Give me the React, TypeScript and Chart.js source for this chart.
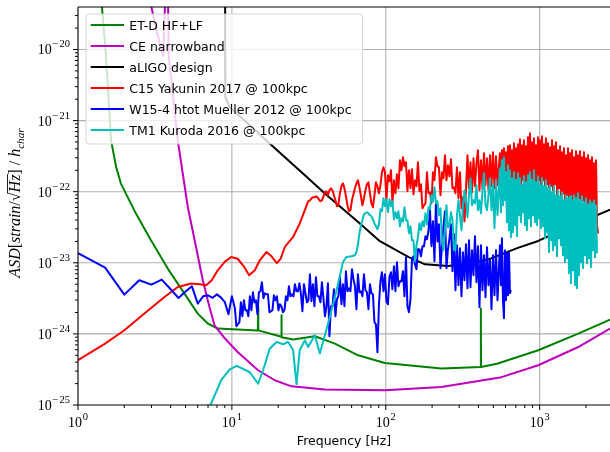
import React, { useEffect, useRef } from 'react';
import { Chart, registerables } from 'chart.js';

Chart.register(...registerables);

// ---------------- data (frequency in Hz, ASD in strain/sqrt(Hz)) ----------------
const seriesLabels = [
  'ET-D HF+LF',
  'CE narrowband',
  'aLIGO design',
  'C15 Yakunin 2017 @ 100kpc',
  'W15-4 htot Mueller 2012 @ 100kpc',
  'TM1 Kuroda 2016 @ 100kpc',
];
const seriesColors = ['#008000', '#bf00bf', '#000000', '#ff0000', '#0000ff', '#00bfbf'];

const xTickExponents = [0, 1, 2, 3];
const yTickExponents = [-25, -24, -23, -22, -21, -20];

const etdFreq = [1.35, 1.43, 1.51, 1.584, 1.64, 1.77, 1.9, 2.38, 2.98, 3.83, 4.92, 6.0, 6.97, 8.09, 10.9, 14.75, 14.8, 14.85, 20.95, 21.0, 21.05, 25.0, 34.6, 46.7, 66.1, 98.6, 230, 414, 415, 416, 528, 979, 1782, 2865, 3000];
const etdAsd = [1.8e-19, 4.0e-20, 9.75e-21, 1.93e-21, 5.28e-22, 2.22e-22, 1.3e-22, 4.92e-23, 2.07e-23, 8.29e-24, 3.69e-24, 1.93e-24, 1.4e-24, 1.19e-24, 1.15e-24, 1.12e-24, 2.39e-24, 1.12e-24, 9.1e-25, 1.83e-24, 9.0e-25, 8.32e-25, 9.25e-25, 7.3e-25, 5.0e-25, 3.9e-25, 3.25e-25, 3.42e-25, 2.27e-24, 3.42e-25, 3.8e-25, 5.88e-25, 1.01e-24, 1.59e-24, 1.7e-24];

const ceFreq = [2.52, 3.0, 3.23, 3.58, 3.8, 3.89, 4.45, 5.17, 5.85, 6.47, 7.15, 7.71, 8.99, 10.9, 14.8, 19.0, 24.4, 40.2, 98.6, 230, 552, 979, 1782, 2865, 3000];
const ceAsd = [1.8e-19, 3.96e-20, 1.86e-20, 8.15e-21, 3.4e-19, 7.84e-21, 5.28e-22, 6.09e-23, 1.67e-23, 5.67e-24, 2.39e-24, 1.32e-24, 8.67e-25, 5.56e-25, 3.08e-25, 2.23e-25, 1.83e-25, 1.65e-25, 1.61e-25, 1.79e-25, 2.43e-25, 3.62e-25, 6.54e-25, 1.19e-24, 1.25e-24];

const aligoFreq = [9.0, 9.06, 9.69, 17.6, 29.8, 40.2, 66.1, 91.6, 140, 180, 254, 343, 461, 722, 979, 1390, 2865, 3000];
const aligoAsd = [1e-17, 2.15e-21, 1.55e-21, 4.75e-22, 1.7e-22, 9.4e-23, 3.75e-23, 2.01e-23, 1.21e-23, 9.52e-24, 9.02e-24, 9.74e-24, 1.11e-23, 1.62e-23, 2.03e-23, 2.87e-23, 5.6e-23, 5.8e-23];

// frequency sampling of the noisy simulated spectra
const midFreq = [
  10.0, 10.23, 10.46, 10.7, 10.94, 11.19, 11.44, 11.7, 11.97, 12.24,
  12.52, 12.8, 13.09, 13.39, 13.7, 14.01, 14.33, 14.65, 14.98, 15.32,
  15.67, 16.03, 16.39, 16.77, 17.15, 17.54, 17.93, 18.34, 18.76, 19.18,
  19.62, 20.06, 20.52, 20.98, 21.46, 21.95, 22.45, 22.96, 23.48, 24.01,
  24.56, 25.11, 25.68, 26.27, 26.86, 27.47, 28.1, 28.73, 29.39, 30.05,
  30.74, 31.43, 32.15, 32.88, 33.62, 34.39, 35.17, 35.96, 36.78, 37.62,
  38.47, 39.35, 40.24, 41.15, 42.09, 43.04, 44.02, 45.02, 46.04, 47.09,
  48.16, 49.25, 50.37, 51.51, 52.68, 53.88, 55.1, 56.35, 57.63, 58.94,
  60.28, 61.65, 63.05, 64.48, 65.94, 67.44, 68.97, 70.54, 72.14, 73.78,
  75.45, 77.16, 78.92, 80.71, 82.54, 84.41, 86.33, 88.29, 90.3, 92.35,
  94.44, 96.59, 98.78, 101.0, 103.3, 105.7, 108.1, 110.5, 113.0, 115.6,
  118.2, 120.9, 123.6, 126.4, 129.3, 132.3, 135.3, 138.3, 141.5, 144.7,
  148.0, 151.3, 154.7, 158.3, 161.9, 165.5, 169.3, 173.2, 177.1, 181.1,
  185.2, 189.4, 193.7, 198.1, 202.6, 207.2, 211.9, 216.7, 221.6, 226.7,
  231.8, 237.1, 242.5, 248.0, 253.6, 259.4, 265.3, 271.3, 277.4, 283.7,
  290.2, 296.8, 303.5, 310.4, 317.5, 324.7, 332.0, 339.6, 347.3, 355.2,
  363.2, 371.5, 379.9, 388.5, 397.3, 406.4, 415.6, 425.0, 434.7, 444.6,
  454.7, 465.0, 475.6, 486.4, 497.4, 508.7, 520.3, 532.1,
];
const denseFreq = [
  552.0, 560.3, 568.8, 577.4, 586.1, 594.9, 603.9, 613.0, 622.3, 631.7,
  641.2, 650.9, 660.7, 670.6, 680.7, 691.0, 701.4, 712.0, 722.7, 733.6,
  744.7, 755.9, 767.3, 778.9, 790.6, 802.5, 814.6, 826.9, 839.4, 852.1,
  865.0, 878.0, 891.3, 904.7, 918.4, 932.2, 946.3, 960.6, 975.1, 989.8,
  1004.7, 1019.9, 1035.3, 1050.9, 1066.8, 1082.9, 1099.2, 1115.8, 1132.6, 1149.7,
  1167.1, 1184.7, 1202.6, 1220.7, 1239.1, 1257.8, 1276.8, 1296.1, 1315.6, 1335.5,
  1355.6, 1376.1, 1396.9, 1417.9, 1439.3, 1461.0, 1483.1, 1505.5, 1528.2, 1551.3,
  1574.7, 1598.4, 1622.5, 1647.0, 1671.9, 1697.1, 1722.7, 1748.7, 1775.1, 1801.9,
  1829.1, 1856.7, 1884.7, 1913.1, 1942.0, 1971.3, 2001.1, 2031.3, 2061.9, 2093.0,
  2124.6, 2156.7, 2189.2, 2222.3, 2255.8, 2289.8, 2324.4, 2359.5, 2395.1,
];

// C15 Yakunin 2017
const c15LowFreq = [1.0, 1.5, 2.0, 2.7, 3.65, 4.45, 5.43, 6.18, 6.8, 7.4, 8.09, 8.99, 9.88, 10.9, 11.95, 12.94, 14.09, 15.19, 16.79, 18.1, 19.6, 20.8, 22.1, 25.0, 27.6, 31.3];
const c15LowAsd = [4.26e-25, 7.31e-25, 1.125e-24, 1.93e-24, 3.31e-24, 4.57e-24, 5.11e-24, 4.99e-24, 4.83e-24, 5.68e-24, 7.85e-24, 1.03e-23, 1.21e-23, 1.14e-23, 8.94e-24, 6.68e-24, 7.85e-24, 1.085e-23, 1.42e-23, 1.235e-23, 9.85e-24, 1.158e-23, 1.67e-23, 2.31e-23, 3.56e-23, 7.33e-23];
const c15MidStart = 52;
const c15MidAsd = [
  7.57e-23, 8.08e-23, 8.34e-23, 8.34e-23, 8.62e-23, 8.34e-23, 7.82e-23, 7.33e-23, 7.57e-23, 8.62e-23,
  9.81e-23, 1.014e-22, 8.9e-23, 1.047e-22, 1.117e-22, 1.047e-22, 8.9e-23, 7.57e-23, 6.23e-23, 6.65e-23,
  9.5e-23, 1.192e-22, 1.313e-22, 1.117e-22, 8.62e-23, 6.44e-23, 5.31e-23, 5.48e-23, 7.57e-23, 9.2e-23,
  1.117e-22, 1.313e-22, 1.447e-22, 1.154e-22, 8.62e-23, 6.44e-23, 8.08e-23, 1.047e-22, 1.271e-22, 1.356e-22,
  9.5e-23, 6.87e-23, 6.04e-23, 8.9e-23, 1.356e-22, 1.192e-22, 9.5e-23, 1.231e-22, 1.875e-22, 2.2e-22,
  1.875e-22, 7.57e-23, 1.7e-22, 1.4e-22, 2.0e-22, 6.87e-23, 1.447e-22, 9.5e-23, 1.76e-22, 1.117e-22,
  2.77e-22, 2.0e-22, 3.05e-22, 2.28e-22, 2.6e-22, 1.014e-22, 2.0e-22, 1.117e-22, 2.07e-22, 9.2e-23,
  1.447e-22, 1.192e-22, 2.6e-22, 1.014e-22, 1.271e-22, 5.84e-23, 6.44e-23, 6.87e-23, 1.875e-22, 9.5e-23,
  9.81e-23, 6.87e-23, 1.875e-22, 1.447e-22, 3.05e-22, 2.28e-22, 2.2e-22, 8.9e-23, 1.875e-22, 1.543e-22,
  3.25e-22, 1.447e-22, 2.35e-22, 1.646e-22, 2.86e-22, 1.117e-22, 1.154e-22, 9.5e-23, 2.2e-22, 8.08e-23,
  1.875e-22, 5.84e-23, 8.34e-23, 3.83e-23, 1.047e-22, 3.25e-22, 1.117e-22, 2.6e-22, 9.81e-23, 2.95e-22,
  1.192e-22, 2.51e-22, 3.82e-22, 1.047e-22, 2.77e-22, 1.117e-22, 3.47e-22, 1.231e-22, 2.95e-22, 1.047e-22,
  3.25e-22, 1.192e-22, 3.58e-22, 1.117e-22, 3.15e-22, 1.231e-22,
];
const c15DenseAsd = [
  3.47e-22, 1.117e-22, 3.82e-22, 1.356e-22, 4.08e-22, 1.047e-22, 3.58e-22, 1.231e-22, 4.36e-22, 9.81e-23,
  4.5e-22, 1.356e-22, 3.82e-22, 1.117e-22, 4.8e-22, 1.543e-22, 4.08e-22, 1.192e-22, 4.65e-22, 1.447e-22,
  5.46e-22, 1.047e-22, 4.5e-22, 1.447e-22, 5.29e-22, 1.192e-22, 4.36e-22, 1.356e-22, 5.83e-22, 1.117e-22,
  6.63e-22, 1.543e-22, 4.96e-22, 1.192e-22, 5.65e-22, 1.356e-22, 4.5e-22, 1.047e-22, 5.83e-22, 1.447e-22,
  5.29e-22, 1.192e-22, 6.03e-22, 1.447e-22, 4.65e-22, 1.117e-22, 5.65e-22, 1.271e-22, 4.8e-22, 9.81e-23,
  4.22e-22, 1.192e-22, 5.29e-22, 1.047e-22, 4.36e-22, 1.271e-22, 4.96e-22, 9.2e-23, 3.82e-22, 1.117e-22,
  4.36e-22, 8.08e-23, 3.58e-22, 9.5e-23, 4.08e-22, 7.1e-23, 3.25e-22, 8.9e-23, 4.08e-22, 6.87e-23,
  3.47e-22, 8.08e-23, 3.82e-22, 6.23e-23, 3.05e-22, 7.57e-23, 3.7e-22, 5.84e-23, 3.25e-22, 8.08e-23,
  3.7e-22, 6.44e-23, 3.05e-22, 7.57e-23, 3.58e-22, 5.48e-23, 2.95e-22, 6.44e-23, 3.25e-22, 5.48e-23,
  2.77e-22, 5.84e-23, 3.05e-22, 4.81e-23, 2.51e-22, 5.48e-23, 2.77e-22, 3.37e-23, 2.6e-23,
];

// W15-4 Mueller 2012
const w15LowFreq = [1, 1.5, 2, 2.5, 3, 3.5, 4, 4.5, 5, 5.5, 6, 6.5, 7, 7.5, 8, 8.5, 9, 9.5];
const w15LowAsd = [1.37e-23, 8.56e-24, 3.57e-24, 5.68e-24, 4.94e-24, 5.8e-24, 4.24e-24, 3.2e-24, 3.95e-24, 4.67e-24, 2.67e-24, 3.38e-24, 3.49e-24, 3.22e-24, 3.6e-24, 3.24e-24, 2.8e-24, 1.89e-24];
const w15MidAsd = [
  3.38e-24, 2.78e-24, 2.3e-24, 1.281e-24, 1.367e-24, 1.458e-24, 2.78e-24, 1.77e-24, 2.97e-24, 2.15e-24,
  2.15e-24, 1.77e-24, 3.38e-24, 2.15e-24, 3.85e-24, 2.78e-24, 2.97e-24, 1.89e-24, 3.85e-24, 3.98e-24,
  5.32e-24, 3.17e-24, 3.73e-24, 3.61e-24, 3.61e-24, 2.02e-24, 2.08e-24, 2.15e-24, 3.49e-24, 2.97e-24,
  3.38e-24, 2.15e-24, 2.61e-24, 2.45e-24, 2.02e-24, 2.15e-24, 3.38e-24, 2.97e-24, 4.68e-24, 3.38e-24,
  3.61e-24, 3.38e-24, 4.99e-24, 3.98e-24, 3.98e-24, 5.15e-24, 3.61e-24, 2.08e-24, 4.99e-24, 3.73e-24,
  2.78e-24, 2.97e-24, 6.9e-24, 2.88e-24, 4.99e-24, 2.45e-24, 6.26e-24, 3.38e-24, 3.38e-24, 2.78e-24,
  5.32e-24, 3.17e-24, 1.77e-24, 2.45e-24, 5.15e-24, 9.26e-25, 2.45e-24, 2.45e-24, 4.24e-24, 1.77e-24,
  3.07e-24, 3.38e-24, 6.26e-24, 2.61e-24, 4.99e-24, 2.45e-24, 7.6e-24, 3.98e-24, 4.38e-24, 3.98e-24,
  8.11e-24, 5.87e-24, 4.68e-24, 2.22e-24, 6.9e-24, 3.85e-24, 3.98e-24, 3.38e-24, 6.9e-24, 4.11e-24,
  3.85e-24, 2.22e-24, 4.99e-24, 3.73e-24, 3.61e-24, 1.458e-24, 1.367e-24, 5.52e-25, 2.61e-24, 5.5e-24,
  7.36e-24, 3.98e-24, 6.9e-24, 2.88e-24, 2.61e-24, 6.47e-24, 7.36e-24, 4.24e-24, 8.94e-24, 3.98e-24,
  1.017e-23, 4.68e-24, 5.5e-24, 5.5e-24, 7.6e-24, 3.38e-24, 1.196e-23, 2.45e-24, 2.02e-24, 3.07e-24,
  1.121e-23, 1.235e-23, 9.53e-24, 8.11e-24, 1.549e-23, 1.549e-23, 1.235e-23, 1.707e-23, 1.707e-23, 2.36e-23,
  2.14e-23, 2.78e-23, 5.66e-23, 1.707e-23, 3.83e-23, 1.05e-23, 7.1e-23, 2.0e-23, 3.48e-23, 8.38e-24,
  1.707e-23, 3.26e-23, 5.31e-23, 8.38e-24, 1.549e-23, 2.21e-23, 3.48e-23, 7.6e-24, 2.52e-23, 4.11e-24,
  1.763e-23, 4.83e-24, 1.6e-23, 3.38e-24, 1.406e-23, 5.68e-24, 1.82e-23, 4.38e-24, 2.07e-23, 4.53e-24,
  1.5e-23, 6.68e-24, 2.36e-23, 5.32e-24, 1.707e-23, 2.37e-24, 1.763e-23, 4.11e-24, 1.276e-23, 3.27e-24,
  1.652e-23, 4.83e-24, 1.085e-23, 2.22e-24, 1.276e-23, 3.49e-24, 1.5e-23, 2.97e-24,
];
const w15DenseAsd = [1.763e-23, 4.83e-24, 2.21e-23, 2.97e-24, 1.66e-24, 1.5e-23, 2.97e-24, 1.361e-23, 3.49e-24, 1.406e-23, 3.73e-24, 4.11e-24];

// TM1 Kuroda 2016
const tm1LowFreq = [6.18, 7.26, 8.56, 9.69, 10.76, 13.08, 14.8, 15.95, 17.64, 19.5, 21.5, 23.2, 25.0, 26.3, 27.6, 29.8, 31.3, 34.6, 37.3, 43.3, 47.9, 52.8, 55.6, 59.9, 63.0];
const tm1LowAsd = [3.19e-26, 1.0e-25, 2.28e-25, 3.18e-25, 3.56e-25, 2.89e-25, 1.99e-25, 3.08e-25, 6.22e-25, 7.71e-25, 7.15e-25, 7.71e-25, 5.89e-25, 1.96e-25, 5.89e-25, 8.14e-25, 6.55e-25, 9.57e-25, 5.3e-25, 1.73e-24, 4.11e-24, 1.03e-23, 1.21e-23, 1.235e-23, 1.276e-23];
const tm1MidStart = 83;
const tm1MidAsd = [
  1.406e-23, 1.82e-23, 2.6e-23, 3.37e-23, 3.96e-23, 4.81e-23, 4.97e-23, 5.14e-23, 4.97e-23, 4.66e-23,
  4.51e-23, 4.09e-23, 3.59e-23, 3.26e-23, 2.96e-23, 3.48e-23,
  5.66e-23, 5.31e-23, 8.08e-23, 6.23e-23, 7.82e-23, 5.14e-23, 7.82e-23, 6.23e-23, 7.33e-23, 4.09e-23,
  5.14e-23, 4.23e-23, 5.31e-23, 3.26e-23, 4.23e-23, 3.83e-23, 6.04e-23, 3.96e-23, 3.96e-23, 2.6e-23,
  3.26e-23, 2.07e-23, 2.07e-23, 1.05e-23, 1.763e-23, 2.29e-23, 3.59e-23, 2.87e-23, 3.83e-23, 3.26e-23,
  4.97e-23, 3.48e-23, 6.04e-23, 5.66e-23, 8.9e-23, 7.33e-23, 1.154e-22, 6.87e-23, 7.33e-23, 4.66e-23,
  5.84e-23, 2.07e-23, 1.5e-23, 2.87e-23, 6.44e-23, 3.16e-23, 3.37e-23, 5.14e-23, 3.96e-23, 1.5e-23,
  1.5e-23,
  4.66e-23, 7.57e-23, 4.66e-23, 2.87e-23, 6.44e-23, 1.047e-22, 7.57e-23, 4.37e-23, 8.9e-23, 1.543e-22,
  6.44e-23, 7.57e-23, 6.87e-23, 1.231e-22, 5.48e-23, 7.57e-23, 4.97e-23, 1.047e-22, 1.815e-22, 6.44e-23,
  5.48e-23, 8.9e-23, 1.543e-22, 5.48e-23, 1.231e-22, 3.06e-23, 1.447e-22, 4.66e-23,
];
const tm1DenseAsd = [
  2.13e-22, 5.14e-23, 2.77e-22, 6.44e-23, 3.05e-22, 7.57e-23, 1.875e-22, 3.71e-23, 2.35e-22, 2.87e-23,
  2.0e-22, 2.28e-23, 1.543e-22, 2.69e-23, 1.875e-22, 3.37e-23, 1.447e-22, 2.36e-23, 1.815e-22, 4.66e-23,
  1.543e-22, 3.71e-23, 1.231e-22, 5.14e-23, 1.646e-22, 3.37e-23, 1.356e-22, 2.87e-23, 1.7e-22, 4.22e-23,
  1.875e-22, 3.26e-23, 1.447e-22, 4.66e-23, 2.0e-22, 3.71e-23, 1.356e-22, 3.37e-23, 1.646e-22, 4.22e-23,
  1.231e-22, 3.06e-23, 1.543e-22, 3.26e-23, 1.192e-22, 2.21e-23, 1.447e-22, 2.69e-23, 1.117e-22, 1.406e-23,
  1.231e-22, 2.07e-23, 9.81e-23, 1.5e-23, 1.192e-22, 1.763e-23, 8.9e-23, 1.235e-23, 1.047e-22, 2.21e-23,
  8.62e-23, 1.763e-23, 9.81e-23, 1.276e-23, 7.57e-23, 1.017e-23, 8.9e-23, 1.158e-23, 8.08e-23, 7.12e-24,
  8.62e-23, 5.15e-24, 7.57e-23, 7.85e-24, 8.9e-23, 4.83e-24, 8.08e-23, 4.38e-24, 9.5e-23, 6.68e-24,
  7.57e-23, 1.017e-23, 8.62e-23, 8.38e-24, 7.09e-23, 1.276e-23, 8.08e-23, 9.85e-24, 6.65e-23, 1.158e-23,
  7.57e-23, 8.65e-24, 6.87e-23, 1.5e-23, 7.57e-23, 1.196e-23, 6.44e-23, 1.361e-23,
];

// axis ranges
const X_MIN = 1;
const X_MAX = 2865;
const Y_MIN = 1e-25;
const Y_MAX = 3.96e-20;

// ---------------- helpers ----------------
function pts(f: number[], v: number[]) {
  return v.map((y, i) => ({ x: f[i], y }));
}

const SERIF = '"Liberation Serif", "DejaVu Serif", serif';
const SANS = '"DejaVu Sans", sans-serif';

function drawPow(ctx: CanvasRenderingContext2D, exp: number, x: number, y: number, align: 'right' | 'center') {
  const base = '10';
  const minus = exp < 0 ? '\u2212' : '';
  const digits = String(Math.abs(exp));
  const bf = `14px ${SERIF}`;
  const sf = `10.5px ${SERIF}`;
  ctx.font = bf;
  const bw = ctx.measureText(base).width;
  ctx.font = sf;
  const mw = minus ? ctx.measureText(minus).width + 1 : 0;
  const dw = ctx.measureText(digits).width;
  const total = bw + 0.8 + mw + dw;
  const x0 = align === 'right' ? x - total : x - total / 2;
  ctx.textAlign = 'left';
  ctx.textBaseline = 'alphabetic';
  ctx.font = bf;
  ctx.fillText(base, x0, y);
  ctx.font = sf;
  if (minus) ctx.fillText(minus, x0 + bw + 0.8, y - 7);
  ctx.fillText(digits, x0 + bw + 0.8 + mw, y - 7);
}

const framePlugin = {
  id: 'frame',
  beforeDatasetsDraw(chart: any) {
    const { ctx, chartArea: a, scales } = chart;
    const xs = scales.x;
    const ys = scales.y;
    ctx.save();
    ctx.strokeStyle = '#b0b0b0';
    ctx.lineWidth = 1.1;
    ctx.beginPath();
    xTickExponents.forEach((e) => {
      const px = xs.getPixelForValue(Math.pow(10, e));
      if (px > a.left + 0.5 && px <= a.right) {
        ctx.moveTo(px, a.top);
        ctx.lineTo(px, a.bottom);
      }
    });
    yTickExponents.forEach((e) => {
      const py = ys.getPixelForValue(Math.pow(10, e));
      if (py < a.bottom - 0.5 && py >= a.top) {
        ctx.moveTo(a.left, py);
        ctx.lineTo(a.right, py);
      }
    });
    ctx.stroke();
    ctx.restore();
  },
  afterDraw(chart: any) {
    const { ctx, chartArea: a, scales } = chart;
    const xs = scales.x;
    const ys = scales.y;
    ctx.save();

    // spines
    ctx.strokeStyle = '#000';
    ctx.lineWidth = 1.1;
    ctx.beginPath();
    ctx.moveTo(a.left, a.top);
    ctx.lineTo(a.right, a.top);
    ctx.moveTo(a.left, a.top);
    ctx.lineTo(a.left, a.bottom);
    ctx.lineTo(a.right, a.bottom);
    ctx.stroke();

    // tick marks
    ctx.lineWidth = 1;
    ctx.beginPath();
    for (let e = -1; e <= 4; e++) {
      for (let k = 1; k <= 9; k++) {
        const v = k * Math.pow(10, e);
        if (v < X_MIN || v > X_MAX) continue;
        const px = xs.getPixelForValue(v);
        const len = k === 1 ? 5 : 3;
        ctx.moveTo(px, a.bottom);
        ctx.lineTo(px, a.bottom + len);
      }
    }
    for (let e = -26; e <= -19; e++) {
      for (let k = 1; k <= 9; k++) {
        const v = k * Math.pow(10, e);
        if (v < Y_MIN * 0.999 || v > Y_MAX) continue;
        const py = ys.getPixelForValue(v);
        const len = k === 1 ? 5 : 3;
        ctx.moveTo(a.left, py);
        ctx.lineTo(a.left - len, py);
      }
    }
    ctx.stroke();

    // tick labels
    ctx.fillStyle = '#000';
    xTickExponents.forEach((e) => {
      const px = xs.getPixelForValue(Math.pow(10, e));
      drawPow(ctx, e, px, a.bottom + 21.5, 'center');
    });
    yTickExponents.forEach((e) => {
      const py = ys.getPixelForValue(Math.pow(10, e));
      drawPow(ctx, e, a.left - 8, py + 5, 'right');
    });

    // x axis title
    ctx.font = `12.5px ${SANS}`;
    ctx.textAlign = 'center';
    ctx.textBaseline = 'alphabetic';
    ctx.fillText('Frequency [Hz]', (a.left + a.right) / 2, 445);

    // y axis title: ASD[strain/sqrt(Hz)] / h_char
    const size = 16;
    const it = `italic ${size}px ${SERIF}`;
    const up = `${size}px ${SERIF}`;
    const sub = `italic ${size * 0.7}px ${SERIF}`;
    const parts: { t: string; f: string; dy?: number; over?: boolean }[] = [
      { t: 'ASD', f: it },
      { t: '[', f: up },
      { t: 'strain', f: it },
      { t: '/', f: up },
      { t: '\u221A', f: up },
      { t: 'Hz', f: it, over: true },
      { t: ']', f: up },
      { t: ' / ', f: up },
      { t: 'h', f: it },
      { t: 'char', f: sub, dy: 3.5 },
    ];
    const widths = parts.map((p) => {
      ctx.font = p.f;
      return ctx.measureText(p.t).width;
    });
    const total = widths.reduce((s, w) => s + w, 0);
    ctx.save();
    ctx.translate(15, 203);
    ctx.rotate(-Math.PI / 2);
    ctx.textAlign = 'left';
    let cx = -total / 2;
    parts.forEach((p, i) => {
      ctx.font = p.f;
      ctx.fillText(p.t, cx, 5 + (p.dy || 0));
      if (p.over) {
        ctx.lineWidth = 0.9;
        ctx.beginPath();
        ctx.moveTo(cx - 1, 5 - size * 0.78);
        ctx.lineTo(cx + widths[i] + 0.5, 5 - size * 0.78);
        ctx.stroke();
      }
      cx += widths[i];
    });
    ctx.restore();

    // legend
    const lx = 86, ly = 14, lw = 276.5, lh = 130, r = 3;
    ctx.beginPath();
    ctx.moveTo(lx + r, ly);
    ctx.lineTo(lx + lw - r, ly);
    ctx.arcTo(lx + lw, ly, lx + lw, ly + r, r);
    ctx.lineTo(lx + lw, ly + lh - r);
    ctx.arcTo(lx + lw, ly + lh, lx + lw - r, ly + lh, r);
    ctx.lineTo(lx + r, ly + lh);
    ctx.arcTo(lx, ly + lh, lx, ly + lh - r, r);
    ctx.lineTo(lx, ly + r);
    ctx.arcTo(lx, ly, lx + r, ly, r);
    ctx.closePath();
    ctx.fillStyle = 'rgba(255,255,255,0.8)';
    ctx.fill();
    ctx.strokeStyle = 'rgba(204,204,204,0.8)';
    ctx.lineWidth = 1;
    ctx.stroke();

    chart.data.datasets.forEach((ds: any, i: number) => {
      const cy = 25 + i * 21;
      ctx.strokeStyle = ds.borderColor;
      ctx.lineWidth = 2;
      ctx.beginPath();
      ctx.moveTo(90.7, cy);
      ctx.lineTo(124, cy);
      ctx.stroke();
      ctx.fillStyle = '#000';
      ctx.font = `12.5px ${SANS}`;
      ctx.textAlign = 'left';
      ctx.textBaseline = 'alphabetic';
      ctx.fillText(ds.label, 129.3, cy + 4.5);
    });

    ctx.restore();
  },
};

export default function App() {
  const ref = useRef<HTMLCanvasElement>(null);

  useEffect(() => {
    const canvas = ref.current;
    if (!canvas) return;
    const seriesData = [
      pts(etdFreq, etdAsd),
      pts(ceFreq, ceAsd),
      pts(aligoFreq, aligoAsd),
      pts(c15LowFreq, c15LowAsd)
        .concat(pts(midFreq.slice(c15MidStart), c15MidAsd))
        .concat(pts(denseFreq, c15DenseAsd)),
      pts(w15LowFreq, w15LowAsd)
        .concat(pts(midFreq, w15MidAsd))
        .concat(pts(denseFreq, w15DenseAsd)),
      pts(tm1LowFreq, tm1LowAsd)
        .concat(pts(midFreq.slice(tm1MidStart), tm1MidAsd))
        .concat(pts(denseFreq, tm1DenseAsd)),
    ];
    const chart = new Chart(canvas, {
      type: 'scatter',
      data: {
        datasets: seriesData.map((d, i) => ({
          label: seriesLabels[i],
          data: d,
          showLine: true,
          borderColor: seriesColors[i],
          backgroundColor: seriesColors[i],
          borderWidth: 2,
          borderJoinStyle: 'round',
          pointRadius: 0,
          pointHoverRadius: 0,
          tension: 0,
          fill: false,
          order: seriesLabels.length - i,
        })),
      },
      options: {
        responsive: false,
        animation: false,
        events: [],
        layout: { padding: { top: 7, left: 0, right: 0, bottom: 0 } },
        plugins: { legend: { display: false }, tooltip: { enabled: false } },
        scales: {
          x: {
            type: 'logarithmic',
            min: X_MIN,
            max: X_MAX,
            grid: { display: false },
            border: { display: false },
            ticks: { display: false },
            afterFit: (s: any) => {
              s.height = 47;
            },
          },
          y: {
            type: 'logarithmic',
            min: Y_MIN,
            max: Y_MAX,
            grid: { display: false },
            border: { display: false },
            ticks: { display: false },
            afterFit: (s: any) => {
              s.width = 78;
            },
          },
        },
      } as any,
      plugins: [framePlugin],
    });
    return () => chart.destroy();
  }, []);

  return (
    <canvas
      ref={ref}
      width={610}
      height={452}
      style={{ position: 'absolute', left: 0, top: 0, width: '610px', height: '452px' }}
    />
  );
}
